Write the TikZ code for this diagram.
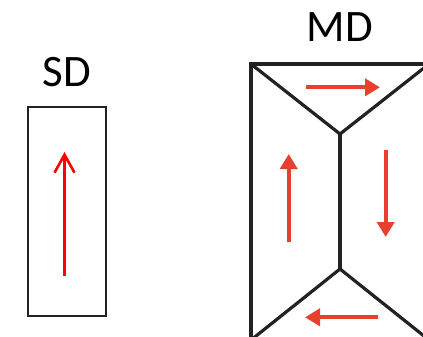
\documentclass[tikz,border=0pt]{standalone}
\usepackage{fontspec}
\setmainfont{Carlito}
\usetikzlibrary{arrows.meta}
\definecolor{mdred}{HTML}{E8402F}
\definecolor{edge}{HTML}{222222}
\tikzset{
  lbl/.style={font=\fontsize{45}{45}\selectfont, inner sep=0pt, anchor=base},
  sdarrow/.style={draw=red, line width=2.6pt, -{Straight Barb[length=18pt,width=20pt,line width=2.6pt]}},
  mdarrow/.style={draw=mdred, line width=4pt, -{Triangle[length=15pt,width=17pt]}},
  mdline/.style={draw=edge, line width=3.2pt, line join=miter},
}
\begin{document}
\begin{tikzpicture}[x=1pt,y=-1pt]
\useasboundingbox (0,0) rectangle (423,337);
\clip (0,0) rectangle (423,337);
% SD
\node[lbl] (sdlabel) at (66.7,86) {SD};
\node[draw=edge, line width=1.2pt, minimum width=78pt, minimum height=209pt, inner sep=0pt] (sdbox) at (67,211.5) {};
\coordinate (sda) at (64.5,276);
\coordinate (sdb) at (64.5,152);
\draw[sdarrow] (sda) -- (sdb);
% MD
\node[lbl] (mdlabel) at (340,42) {MD};
\coordinate (tl) at (251,64);
\coordinate (tr) at (429,64);
\coordinate (bl) at (251,340);
\coordinate (br) at (429,340);
\coordinate (ct) at (340,134);
\coordinate (cb) at (340,269);
\draw[mdline] (tl) rectangle (br);
\draw[mdline] (tl) -- (ct) -- (tr);
\draw[mdline] (ct) -- (cb);
\draw[mdline] (bl) -- (cb) -- (br);
\coordinate (a1) at (306,87.3);
\coordinate (a2) at (380,87.3);
\draw[mdarrow] (a1) -- (a2);
\coordinate (b1) at (288.7,242);
\coordinate (b2) at (288.7,154);
\draw[mdarrow] (b1) -- (b2);
\coordinate (c1) at (385.7,150);
\coordinate (c2) at (385.7,237);
\draw[mdarrow] (c1) -- (c2);
\coordinate (d1) at (378,317.3);
\coordinate (d2) at (305,317.3);
\draw[mdarrow] (d1) -- (d2);
\end{tikzpicture}
\end{document}
